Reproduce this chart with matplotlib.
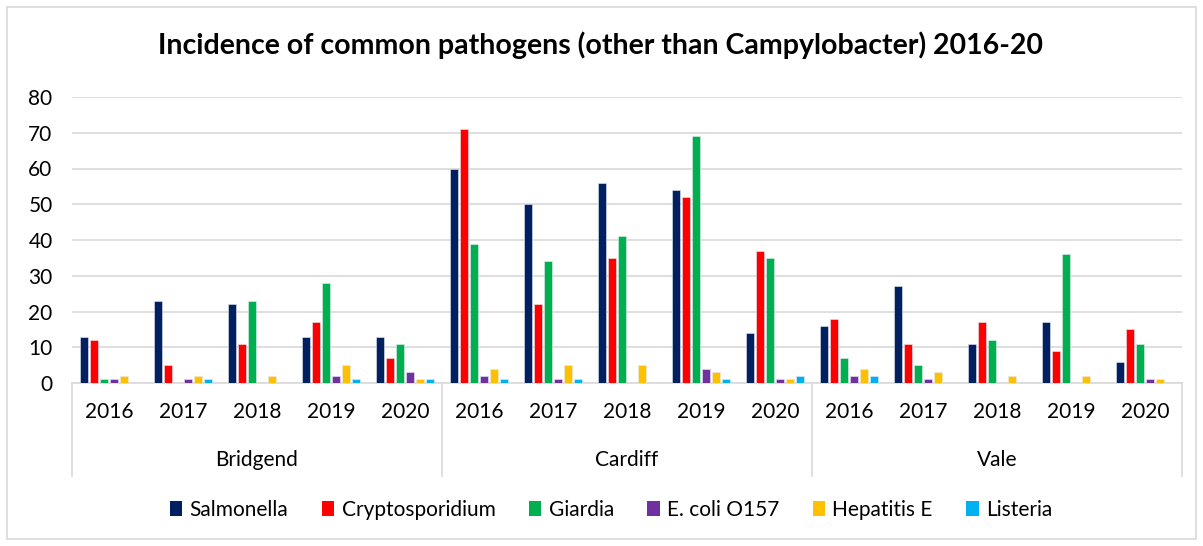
import matplotlib
matplotlib.use("Agg")
import matplotlib.pyplot as plt
import numpy as np
from matplotlib.patches import Rectangle, Patch
from matplotlib.lines import Line2D

plt.rcParams['font.family'] = ['Lato', 'DejaVu Sans']

regions = ["Bridgend", "Cardiff", "Vale"]
years = ["2016", "2017", "2018", "2019", "2020"]
pathogens = ["Salmonella", "Cryptosporidium", "Giardia", "E. coli O157", "Hepatitis E", "Listeria"]
colors = ["#002060", "#FF0000", "#00B050", "#7030A0", "#FFC000", "#00B0F0"]

salmonella      = [13, 23, 22, 13, 13, 60, 50, 56, 54, 14, 16, 27, 11, 17, 6]
cryptosporidium = [12, 5, 11, 17, 7, 71, 22, 35, 52, 37, 18, 11, 17, 9, 15]
giardia         = [1, 0, 23, 28, 11, 39, 34, 41, 69, 35, 7, 5, 12, 36, 11]
ecoli_o157      = [1, 1, 0, 2, 3, 2, 1, 0, 4, 1, 2, 1, 0, 0, 1]
hepatitis_e     = [2, 2, 2, 5, 1, 4, 5, 5, 3, 1, 4, 3, 2, 2, 1]
listeria        = [0, 1, 0, 1, 1, 1, 1, 0, 1, 2, 2, 0, 0, 0, 0]
series = [salmonella, cryptosporidium, giardia, ecoli_o157, hepatitis_e, listeria]

W, H = 1203, 546
fig = plt.figure(figsize=(W/100, H/100), dpi=100)
ax = fig.add_axes([72/W, 1-383/H, (1182-72)/W, (383-97)/H])

n = len(salmonella)
x = np.arange(n)
bw = 10/74
for i, (vals, c, name) in enumerate(zip(series, colors, pathogens)):
    off = (i - 2.5) * bw
    ax.bar(x + off, vals, width=bw*0.85, color=c, label=name, zorder=3,
           edgecolor="#E6EAF2", linewidth=0.4)

ax.set_xlim(-0.5, n-0.5)
ax.set_ylim(0, 80)
ax.set_yticks(range(0, 81, 10))
ax.yaxis.grid(True, color="#D9D9D9", linewidth=1.2, zorder=0)
ax.tick_params(axis='y', length=0, labelsize=15, pad=14)
ax.tick_params(axis='x', length=0)
ax.set_xticks([])
for s in ["top", "right", "left"]:
    ax.spines[s].set_visible(False)
ax.spines["bottom"].set_color("#D9D9D9")
ax.spines["bottom"].set_linewidth(1.2)

trans = ax.get_xaxis_transform()
def yax(py):
    return (383 - py) / (383 - 97)

for i in range(n):
    ax.text(x[i], yax(412), years[i % 5], transform=trans, ha='center', va='center', fontsize=15, clip_on=False)
for g, name in enumerate(regions):
    ax.text(g*5 + 2, yax(460), name, transform=trans, ha='center', va='center', fontsize=15, clip_on=False)
for b in [-0.5, 4.5, 9.5, 14.5]:
    ax.add_line(Line2D([b, b], [0, yax(476)], transform=trans, color="#D9D9D9", linewidth=1.2, clip_on=False))

fig.text(600/W, 1-45/H, "Incidence of common pathogens (other than Campylobacter) 2016-20",
         ha='center', va='center', fontsize=20.5, fontweight='bold')

handles = [Patch(facecolor=c, label=p) for c, p in zip(colors, pathogens)]
fig.legend(handles=handles, loc='center', bbox_to_anchor=(611/W, 1-510/H), ncol=6, frameon=False,
           fontsize=15, handlelength=0.6, handleheight=0.75, handletextpad=0.35, columnspacing=1.6)

fig.add_artist(Rectangle((7/W, 7/H), (W-14)/W, (H-14)/H, transform=fig.transFigure,
                         fill=False, edgecolor="#D9D9D9", linewidth=1.2))

fig.savefig("out.png", dpi=100)
